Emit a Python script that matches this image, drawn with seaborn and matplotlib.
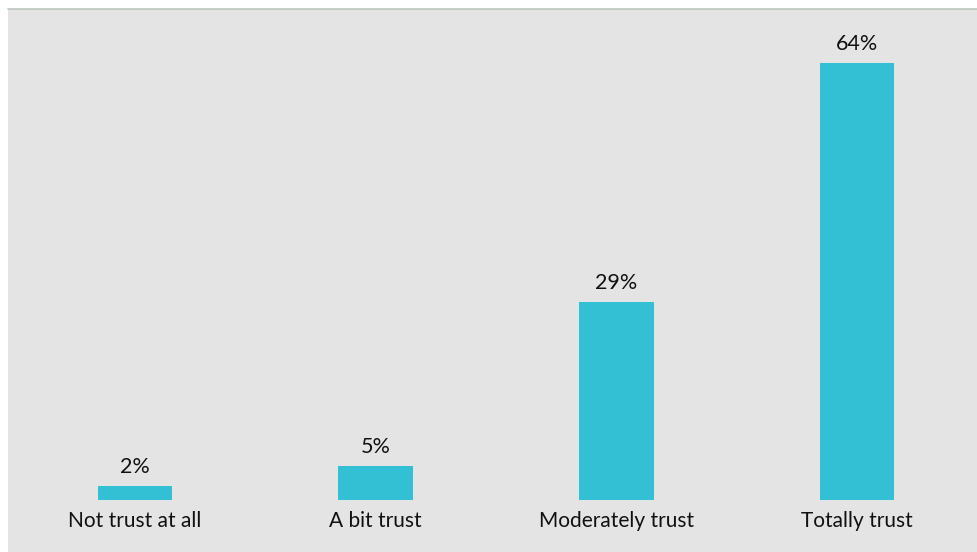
import matplotlib
matplotlib.use("Agg")
import matplotlib.pyplot as plt
import seaborn as sns
import pandas as pd
from matplotlib.patches import Rectangle
from matplotlib.lines import Line2D

categories = ["Not trust at all", "A bit trust", "Moderately trust", "Totally trust"]
shares = [2, 5, 29, 64]

sns.set_theme(style="white")
plt.rcParams["font.family"] = ["Lato", "DejaVu Sans"]

W, H = 977, 552
fig = plt.figure(figsize=(W / 100, H / 100), dpi=100)
fig.patch.set_facecolor("white")

# gray panel behind the chart, with a thin rule on its top edge
bg = "#e4e4e4"
fig.patches.append(Rectangle((8 / W, 0), 1 - 8 / W, 1 - 9 / H, transform=fig.transFigure,
                             facecolor=bg, edgecolor="none", zorder=-2))
fig.lines.append(Line2D([8 / W, 1], [1 - 9 / H, 1 - 9 / H], transform=fig.transFigure,
                        color="#bcc6bc", linewidth=1.2, zorder=-1))

left_px, right_px = 14.5, 977.5
bottom_px, top_px = 52, 9
ax = fig.add_axes([left_px / W, bottom_px / H, (right_px - left_px) / W,
                   (H - bottom_px - top_px) / H])
ax.set_zorder(2)
ax.set_facecolor("none")

df = pd.DataFrame({"category": categories, "share": shares})
sns.barplot(data=df, x="category", y="share", color="#33bfd4", saturation=1,
            width=0.31, linewidth=0, ax=ax)

for i, v in enumerate(shares):
    ax.text(i, v + 1.3, f"{v}%", ha="center", va="bottom", fontsize=15.5, color="#111111")

ax.set_xlim(-0.5, 3.5)
ax.set_ylim(0, 71.9)
ax.set_xlabel("")
ax.set_ylabel("")
ax.set_yticks([])
ax.tick_params(axis="x", length=0, pad=8, labelsize=15, labelcolor="#111111")
for s in ax.spines.values():
    s.set_visible(False)

fig.savefig("out.png", dpi=100)
